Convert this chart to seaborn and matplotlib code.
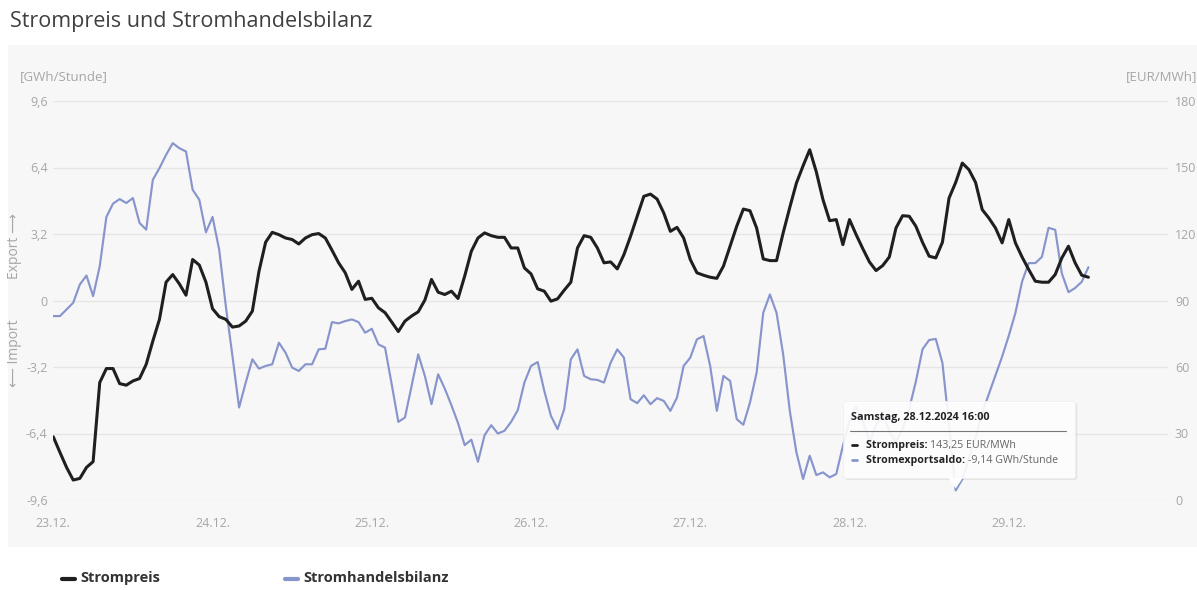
import numpy as np
import pandas as pd
import matplotlib
matplotlib.use("Agg")
import matplotlib.pyplot as plt
import seaborn as sns
from matplotlib.patches import Rectangle, FancyBboxPatch, Polygon
from matplotlib.lines import Line2D

# ---------------- data ----------------
title = "Strompreis und Stromhandelsbilanz"
day_labels = ["23.12.", "24.12.", "25.12.", "26.12.", "27.12.", "28.12.", "29.12."]
left_ticks = [-9.6, -6.4, -3.2, 0, 3.2, 6.4, 9.6]
left_tick_labels = ["-9,6", "-6,4", "-3,2", "0", "3,2", "6,4", "9,6"]
right_ticks = [0, 30, 60, 90, 120, 150, 180]
right_tick_labels = ["0", "30", "60", "90", "120", "150", "180"]

# hourly electricity price [EUR/MWh], starting 23.12.2024 00:00
price = [
    28.5, 21.5, 14.7, 9, 9.75, 14.7, 17.3, 53, 59.3, 59.3, 52.5, 51.8, 53.7, 54.8, 61.2, 71.7,
    81.5, 98.3, 101.7, 97.5, 92.4, 108.5, 106, 98.3,
    86.3, 82.7, 81.5, 78, 78.5, 80.7, 85.2, 103.2, 116.3, 120.75, 119.7, 118.2, 117.5, 115.5, 118.2, 119.7,
    120.2, 118.2, 112.7, 107, 102.5, 95, 98.7, 90.5,
    91, 86.7, 84.5, 80.3, 76, 80.7, 83, 84.9, 90.2, 99.5, 93.75, 92.7, 94.2, 90.9, 101, 112.2,
    118.2, 120.5, 119.25, 118.5, 118.5, 113.7, 113.7, 104.7,
    102, 95.25, 94.2, 89.7, 90.75, 94.65, 98.25, 113.7, 119.25, 118.5, 113.7, 107, 107.4, 104.25, 110.7, 119,
    128, 137, 138, 135.75, 129.5, 121.2, 123, 118.2,
    108.5, 102.5, 101.4, 100.5, 100, 105.5, 114.5, 123.5, 131.25, 130.5, 122.7, 108.75, 108, 108, 120.5, 132,
    143, 150.75, 158, 148, 135.5, 126, 126.5, 115.2,
    126.5, 119.7, 113.4, 107.4, 103.5, 105.75, 109.65, 122.7, 128.25, 128, 123.5, 116.25, 110, 109.2, 116.25, 136.2,
    143.25, 152, 149, 143.25, 131, 127.2, 122.7, 116,
    126.5, 116, 109.65, 104, 98.7, 98.25, 98.25, 101.7, 109.2, 114.5, 107, 101.4, 100.5,
]

# hourly trade balance [GWh/Stunde] (export positive, import negative)
balance = [
    -0.75, -0.75, -0.43, -0.11, 0.77, 1.2, 0.21, 1.65, 4.02, 4.66, 4.88, 4.69, 4.93, 3.73, 3.41, 5.81,
    6.37, 7.01, 7.57, 7.33, 7.17, 5.33, 4.85, 3.28,
    4.02, 2.45, -0.27, -2.67, -5.15, -3.95, -2.83, -3.28, -3.15, -3.07, -2.03, -2.51, -3.23, -3.39, -3.07, -3.07,
    -2.35, -2.32, -1.04, -1.10, -0.99, -0.91, -1.04, -1.55,
    -1.36, -2.11, -2.27, -4.03, -5.84, -5.63, -4.11, -2.59, -3.63, -4.99, -3.55, -4.24, -5.04, -5.9, -6.96, -6.7,
    -7.76, -6.48, -6.0, -6.4, -6.27, -5.84, -5.28, -3.95,
    -3.15, -2.96, -4.35, -5.55, -6.19, -5.23, -2.83, -2.35, -3.63, -3.79, -3.82, -3.95, -2.99, -2.35, -2.75, -4.75,
    -4.94, -4.56, -4.99, -4.7, -4.83, -5.31, -4.67, -3.15,
    -2.75, -1.87, -1.71, -3.15, -5.31, -3.63, -3.87, -5.71, -5.98, -4.91, -3.47, -0.59, 0.29, -0.59, -2.59, -5.31,
    -7.31, -8.59, -7.47, -8.4, -8.27, -8.51, -8.35, -7.0,
    -5.8, -5.1, -5.8, -6.8, -6.0, -5.5, -6.3, -6.8, -6.2, -5.2, -3.9, -2.35, -1.9, -1.85, -3.0, -6.0,
    -9.14, -8.6, -7.6, -6.6, -5.4, -4.5, -3.6, -2.7,
    -1.7, -0.6, 0.9, 1.8, 1.8, 2.1, 3.5, 3.4, 1.3, 0.4, 0.6, 0.9, 1.6,
]

hours = list(range(len(price)))
tooltip_hour = 136
tooltip_title = "Samstag, 28.12.2024 16:00"
tooltip_price_text = "143,25 EUR/MWh"
tooltip_balance_text = "-9,14 GWh/Stunde"

df = pd.DataFrame({"hour": hours, "Strompreis": price, "Stromhandelsbilanz": balance})

# ---------------- style ----------------
sns.set_style("white")
FONT = ["Open Sans", "DejaVu Sans"]
plt.rcParams["font.family"] = FONT

W, H = 1197, 590
BLUE = "#8795cc"
BLACK = "#1f1f1f"
GRID = "#e6e6e6"
TICK = "#a6a6a6"
PANEL = "#f7f7f7"

fig = plt.figure(figsize=(W / 100, H / 100), dpi=100)
fig.patch.set_facecolor("white")


def fx(x):
    return x / W


def fy(y):
    return 1 - y / H


# gray panel (behind the axes)
fig.patches.append(Rectangle((fx(8), fy(547)), 1 - fx(8), fy(45) - fy(547),
                             transform=fig.transFigure, facecolor=PANEL, edgecolor="none", zorder=-5))

# plot area
left, right, top, bottom = 53.3, 1168, 101, 500
ax = fig.add_axes([fx(left), fy(bottom), fx(right) - fx(left), fy(top) - fy(bottom)])
ax.set_facecolor("none")
ax.set_zorder(1)

sns.lineplot(data=df, x="hour", y="Stromhandelsbilanz", ax=ax, color=BLUE, linewidth=1.55, legend=False)
ax.set_xlim(0, 168)
ax.set_ylim(-9.6, 9.6)
ax.set_yticks(left_ticks)
ax.set_yticklabels(left_tick_labels)
ax.set_xticks([24 * i for i in range(len(day_labels))])
ax.set_xticklabels(day_labels)
ax.grid(axis="y", color=GRID, linewidth=1)
ax.grid(axis="x", visible=False)
ax.set_xlabel("")
ax.set_ylabel("")
for s in ax.spines.values():
    s.set_visible(False)
ax.tick_params(axis="y", length=0, pad=4, labelsize=9, labelcolor=TICK)
ax.tick_params(axis="x", length=8, width=0.8, color="#dddddd", pad=4, labelsize=9, labelcolor=TICK)

ax2 = ax.twinx()
sns.lineplot(data=df, x="hour", y="Strompreis", ax=ax2, color=BLACK, linewidth=2.2, legend=False)
ax2.set_ylim(0, 180)
ax2.set_yticks(right_ticks)
ax2.set_yticklabels(right_tick_labels)
ax2.set_ylabel("")
ax2.grid(False)
for s in ax2.spines.values():
    s.set_visible(False)
ax2.tick_params(axis="y", length=0, pad=5, labelsize=9, labelcolor=TICK)

# texts
fig.text(fx(10), fy(21), title, fontsize=15.5, color="#404040", ha="left", va="center")
fig.text(fx(20), fy(77), "[GWh/Stunde]", fontsize=9.5, color=TICK, ha="left", va="center")
fig.text(fx(1197), fy(77), "[EUR/MWh]", fontsize=9.5, color=TICK, ha="right", va="center")
fig.text(fx(15), fy(246), "Export \u27f6", fontsize=10, color=TICK, ha="center", va="center",
         rotation=90, family=FONT)
fig.text(fx(15), fy(353), "\u27f5 Import", fontsize=10, color=TICK, ha="center", va="center",
         rotation=90, family=FONT)

# legend (bottom)
fig.lines.append(Line2D([fx(62), fx(75)], [fy(579), fy(579)], transform=fig.transFigure,
                        color=BLACK, linewidth=3))
fig.text(fx(80), fy(578), "Strompreis", fontsize=10.5, fontweight="bold", color="#333333",
         ha="left", va="center")
fig.lines.append(Line2D([fx(285), fx(298)], [fy(579), fy(579)], transform=fig.transFigure,
                        color=BLUE, linewidth=3))
fig.text(fx(303), fy(578), "Stromhandelsbilanz", fontsize=10.5, fontweight="bold", color="#333333",
         ha="left", va="center")

# tooltip anchored to the data point
px, py = ax.transData.transform((tooltip_hour, balance[tooltip_hour]))
py_img = H - py
bx0, bx1 = px - 112, px + 120
by0, by1 = py_img - 89, py_img - 12
shadow = FancyBboxPatch((fx(bx0 + 1.5), fy(by1 + 1.5)), fx(bx1) - fx(bx0), fy(by0) - fy(by1),
                        boxstyle="round,pad=0,rounding_size=0.003", transform=fig.transFigure,
                        facecolor="#000000", alpha=0.08, edgecolor="none", zorder=5)
box = FancyBboxPatch((fx(bx0), fy(by1)), fx(bx1) - fx(bx0), fy(by0) - fy(by1),
                     boxstyle="round,pad=0,rounding_size=0.003", transform=fig.transFigure,
                     facecolor="white", alpha=0.9, edgecolor="#eeeeee", linewidth=0.6, zorder=6)
pointer = Polygon([(fx(px - 7), fy(by1 - 0.5)), (fx(px + 7), fy(by1 - 0.5)), (fx(px), fy(py_img - 2))],
                  closed=True, transform=fig.transFigure, facecolor="white", edgecolor="none", zorder=6)
fig.patches.extend([shadow, box, pointer])
fig.text(fx(bx0 + 7), fy(by0 + 16), tooltip_title, fontsize=7.8, fontweight="bold", color="#222222",
         ha="left", va="center", zorder=7)
fig.lines.append(Line2D([fx(bx0 + 6), fx(bx1 - 10)], [fy(by0 + 30), fy(by0 + 30)], transform=fig.transFigure,
                        color="#777777", linewidth=0.8, zorder=7))

renderer = fig.canvas.get_renderer()
rows = [("Strompreis: ", tooltip_price_text, BLACK, by0 + 44),
        ("Stromexportsaldo: ", tooltip_balance_text, BLUE, by0 + 59)]
for lab, val, col, yy in rows:
    fig.lines.append(Line2D([fx(bx0 + 8), fx(bx0 + 13)], [fy(yy), fy(yy)], transform=fig.transFigure,
                            color=col, linewidth=2, zorder=7))
    t = fig.text(fx(bx0 + 22), fy(yy), lab, fontsize=7.7, fontweight="bold", color="#222222",
                 ha="left", va="center", zorder=7)
    ext = t.get_window_extent(renderer)
    fig.text(ext.x1 / W, fy(yy), val, fontsize=7.7, color="#666666", ha="left", va="center", zorder=7)

fig.savefig("out.png", dpi=100)
